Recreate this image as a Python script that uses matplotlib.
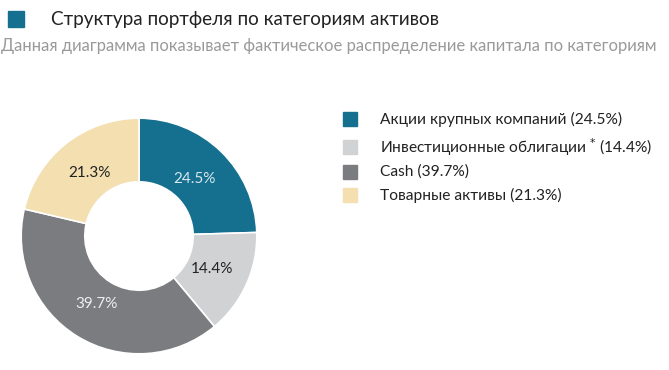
import matplotlib
matplotlib.use("Agg")
import matplotlib.pyplot as plt
from matplotlib.patches import Rectangle

# data
categories = ["Акции крупных компаний", "Инвестиционные облигации", "Cash", "Товарные активы"]
shares = [24.5, 14.4, 39.7, 21.3]
colors = ["#15708f", "#d1d2d4", "#7b7c7f", "#f3dfb0"]
pct_colors = ["#d8e8ef", "#222222", "#eeeeee", "#222222"]

title = "Структура портфеля по категориям активов"
subtitle = "Данная диаграмма показывает фактическое распределение капитала по категориям"

plt.rcParams['font.family'] = ['Lato', 'DejaVu Sans']

W, H = 669, 370
fig = plt.figure(figsize=(W / 100, H / 100), dpi=100)
fig.patch.set_facecolor("white")


def px(x, y):
    return x / W, 1 - y / H


# header
fig.patches.append(Rectangle(px(8, 27), 16 / W, 16 / H, transform=fig.transFigure,
                             color="#15708f", figure=fig))
fig.text(*px(51, 20), title, fontsize=13.6, color="#222222", va="center", ha="left")
fig.text(*px(1, 46), subtitle, fontsize=12.0, color="#9a9a9a", va="center", ha="left")

# donut
cx, cy, r = 139, 236, 119
ax = fig.add_axes([(cx - r) / W, 1 - (cy + r) / H, 2 * r / W, 2 * r / H])
wedges, _, autotexts = ax.pie(shares, colors=colors, startangle=90, counterclock=False,
                              radius=1, pctdistance=0.68, autopct=lambda p: f"{p:.1f}%",
                              wedgeprops=dict(width=0.54, edgecolor="white", linewidth=1.2))
for t, c, v in zip(autotexts, pct_colors, shares):
    t.set_text(f"{v}%")
    t.set_color(c)
    t.set_fontsize(11)
ax.set_xlim(-1.01, 1.01)
ax.set_ylim(-1.01, 1.01)
ax.set_aspect("auto")
ax.axis("off")

# legend
rows_y = [119, 147, 172, 195]
for name, v, c, y in zip(categories, shares, colors, rows_y):
    fig.patches.append(Rectangle(px(343, y + 7), 14 / W, 14 / H, transform=fig.transFigure,
                                 color=c, figure=fig))
    if name.startswith("Инвест"):
        label = f"{name} $^{{*}}$ ({v}%)"
    else:
        label = f"{name} ({v}%)"
    fig.text(*px(380, y), label, fontsize=11.2, color="#222222", va="center", ha="left")

fig.savefig("out.png", dpi=100)
